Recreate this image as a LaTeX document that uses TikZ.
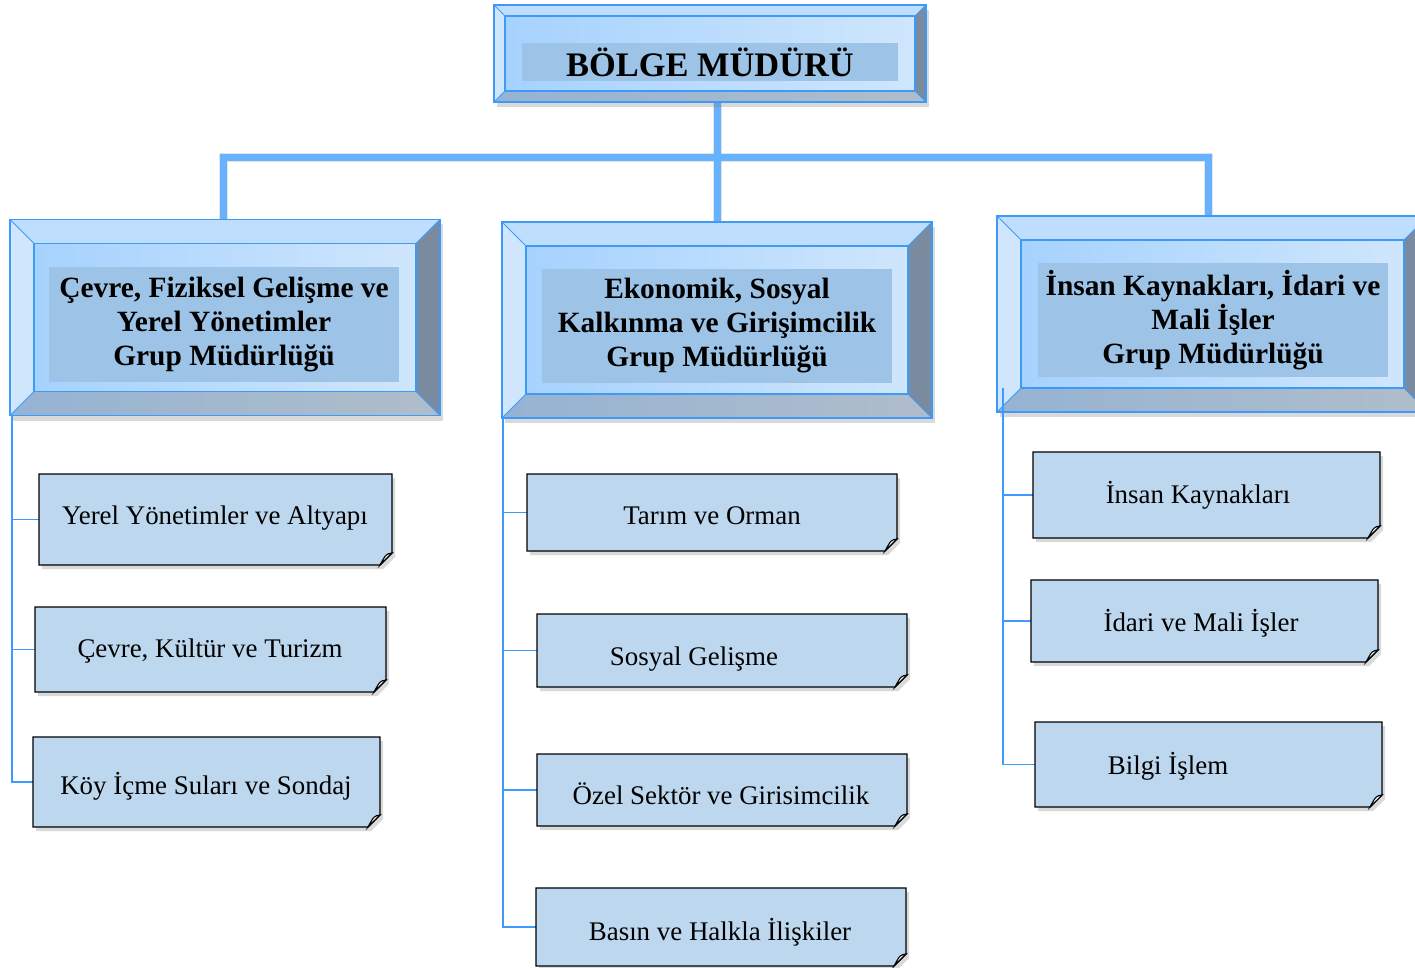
\documentclass[tikz,border=0pt]{standalone}
\usepackage{fontspec}
\setmainfont{Liberation Serif}
\usetikzlibrary{shadows}
\definecolor{bevtop}{HTML}{BFDEFE}
\definecolor{bevleft}{HTML}{D0E6FD}
\definecolor{bevright}{HTML}{7A8B9F}
\definecolor{bevbotA}{HTML}{95B3D3}
\definecolor{bevbotB}{HTML}{B0BDCA}
\definecolor{faceA}{HTML}{A6D2FE}
\definecolor{faceB}{HTML}{CFE6FD}
\definecolor{bevline}{HTML}{3D9BF7}
\definecolor{textbg}{HTML}{9DC3E6}
\definecolor{trunkblue}{HTML}{66B2FF}
\definecolor{twigblue}{HTML}{3D9BFF}
\definecolor{unitfill}{HTML}{BDD7EE}
\tikzset{
    trunk/.style={draw=trunkblue, line width=7pt},
    trunkshadow/.style={draw=black!30, line width=9pt, opacity=.35},
    twig/.style={draw=twigblue, line width=1.5pt},
    groupbox/.style={inner sep=0pt, outer sep=0pt},
    grouptext/.style={fill=textbg, inner sep=0pt, align=center,
            font=\bfseries\fontsize{29.4}{34}\selectfont},
    bosstext/.style={fill=textbg, inner sep=0pt,
            font=\bfseries\fontsize{34.4}{40}\selectfont},
    unitbox/.style={inner sep=0pt, outer sep=0pt},
    unittext/.style={anchor=base, inner sep=0pt, font=\fontsize{26.9}{30}\selectfont},
    unitshape/.style={fill=unitfill, draw=black, line width=1.3pt, line join=miter,
            drop shadow={shadow xshift=3pt, shadow yshift=-4pt, opacity=.3}},
}
% bevelled frame round a node: #1 node, #2 depth of the bevel
\newcommand{\bevelframe}[2]{
    \coordinate (#1-a) at ([xshift=#2pt, yshift=-#2pt]#1.north west);
    \coordinate (#1-b) at ([xshift=-#2pt, yshift=-#2pt]#1.north east);
    \coordinate (#1-c) at ([xshift=-#2pt, yshift=#2pt]#1.south east);
    \coordinate (#1-d) at ([xshift=#2pt, yshift=#2pt]#1.south west);
    \fill[white, drop shadow={shadow xshift=3pt, shadow yshift=-5pt, opacity=.3}]
        (#1.north west) rectangle (#1.south east);
    \fill[bevtop] (#1.north west) -- (#1.north east) -- (#1-b) -- (#1-a) -- cycle;
    \fill[bevright] (#1.north east) -- (#1.south east) -- (#1-c) -- (#1-b) -- cycle;
    \shade[left color=bevbotA, right color=bevbotB]
        (#1.south east) -- (#1.south west) -- (#1-d) -- (#1-c) -- cycle;
    \fill[bevleft] (#1.south west) -- (#1.north west) -- (#1-a) -- (#1-d) -- cycle;
    \shade[left color=faceA, right color=faceB] (#1-a) rectangle (#1-c);
    \draw[bevline, line width=1.5pt] (#1.north west) rectangle (#1.south east);
    \draw[bevline, line width=1.5pt] (#1-a) rectangle (#1-c);
    \draw[bevline, line width=1pt] (#1.north west) -- (#1-a) (#1.north east) -- (#1-b)
        (#1.south east) -- (#1-c) (#1.south west) -- (#1-d);
}
% note with a folded corner over a node
\newcommand{\unitframe}[1]{
    \draw[unitshape] (#1.north west) -- (#1.north east) -- ([yshift=12pt]#1.south east)
        -- ([xshift=-12pt]#1.south east) -- (#1.south west) -- cycle;
    \draw[fill=white, line width=1.1pt] ([xshift=-12pt]#1.south east)
        .. controls ([xshift=-6pt, yshift=11pt]#1.south east) .. ([yshift=12pt]#1.south east) -- cycle;
}
\begin{document}
\begin{tikzpicture}[x=1pt, y=-1pt]
        \useasboundingbox (0,0) rectangle (1415,968);
        %place the frames
        \node[groupbox, minimum width=432pt, minimum height=97pt] (boss) at (710,53.5) {};
        \node[groupbox, minimum width=430pt, minimum height=196pt] (g1) at (225,317.5) {};
        \node[groupbox, minimum width=430pt, minimum height=196pt] (g2) at (717,320) {};
        \node[groupbox, minimum width=431pt, minimum height=196pt] (g3) at (1212.5,314) {};
        %draw the thick connectors
        \coordinate (bus) at (718,158);
        \begin{scope}[xshift=2pt, yshift=-3pt]
            \draw[trunkshadow] ([xshift=-2pt]g1.north) |- (bus) -| ([xshift=-4pt]g3.north);
            \draw[trunkshadow] (g2.north |- boss.south) -- (g2.north);
        \end{scope}
        \draw[trunk] ([xshift=-2pt]g1.north) |- (bus) -| ([xshift=-4pt]g3.north);
        \draw[trunk] (g2.north |- boss.south) -- (g2.north);
        %draw the frames
        \bevelframe{boss}{11}
        \bevelframe{g1}{24}
        \bevelframe{g2}{24}
        \bevelframe{g3}{24}
        %label the frames
        \node[bosstext, minimum width=376pt, minimum height=38pt] (bosst) at (710,62) {BÖLGE MÜDÜRÜ};
        \node[grouptext, minimum width=350pt, minimum height=115pt] (g1t) at (224,324.5)
            {Çevre, Fiziksel Gelişme ve\\Yerel Yönetimler\\Grup Müdürlüğü};
        \node[grouptext, minimum width=350pt, minimum height=114pt] (g2t) at (717,326)
            {Ekonomik, Sosyal\\Kalkınma ve Girişimcilik\\Grup Müdürlüğü};
        \node[grouptext, minimum width=350pt, minimum height=114pt] (g3t) at (1213,320)
            {İnsan Kaynakları, İdari ve\\Mali İşler\\Grup Müdürlüğü};
        %place the units
        \node[unitbox, minimum width=353pt, minimum height=91pt] (a1) at (215.5,519.5) {};
        \node[unitbox, minimum width=351pt, minimum height=85pt] (a2) at (210.5,649.5) {};
        \node[unitbox, minimum width=347pt, minimum height=90pt] (a3) at (206.5,782) {};
        \node[unitbox, minimum width=370pt, minimum height=77pt] (b1) at (712,512.5) {};
        \node[unitbox, minimum width=370pt, minimum height=73pt] (b2) at (722,650.5) {};
        \node[unitbox, minimum width=370pt, minimum height=72pt] (b3) at (722,790) {};
        \node[unitbox, minimum width=370pt, minimum height=78pt] (b4) at (721,927) {};
        \node[unitbox, minimum width=347pt, minimum height=86pt] (c1) at (1206.5,495) {};
        \node[unitbox, minimum width=347pt, minimum height=82pt] (c2) at (1204.5,621) {};
        \node[unitbox, minimum width=347pt, minimum height=85pt] (c3) at (1208.5,764.5) {};
        %draw thin connectors
        \coordinate (s1) at ([xshift=2pt]g1.south west);
        \coordinate (s2) at ([xshift=1pt]g2.south west);
        \coordinate (s3) at ([xshift=6pt, yshift=24pt]g3.south west);
        \draw[twig] (s1) |- (a3.west);
        \draw[twig] (s2) |- (b4.west);
        \draw[twig] (s3) |- (c3.west);
        \foreach \u in {a1,a2} \draw[twig] (s1 |- \u.west) -- (\u.west);
        \foreach \u in {b1,b2,b3} \draw[twig] (s2 |- \u.west) -- (\u.west);
        \foreach \u in {c1,c2} \draw[twig] (s3 |- \u.west) -- (\u.west);
        %draw the units
        \foreach \u in {a1,a2,a3,b1,b2,b3,b4,c1,c2,c3} {\unitframe{\u}}
        %label the units
        \node[unittext] (a1t) at (215,524) {Yerel Yönetimler ve Altyapı};
        \node[unittext] (a2t) at (210,657) {Çevre, Kültür ve Turizm};
        \node[unittext] (a3t) at (206,794) {Köy İçme Suları ve Sondaj};
        \node[unittext] (b1t) at (712,524) {Tarım ve Orman};
        \node[unittext] (b2t) at (694,665) {Sosyal Gelişme};
        \node[unittext] (b3t) at (721,804) {Özel Sektör ve Girisimcilik};
        \node[unittext] (b4t) at (720,940) {Basın ve Halkla İlişkiler};
        \node[unittext] (c1t) at (1198,503) {İnsan Kaynakları};
        \node[unittext] (c2t) at (1201,631) {İdari ve Mali İşler};
        \node[unittext] (c3t) at (1168,774) {Bilgi İşlem};
    \end{tikzpicture}
\end{document}
